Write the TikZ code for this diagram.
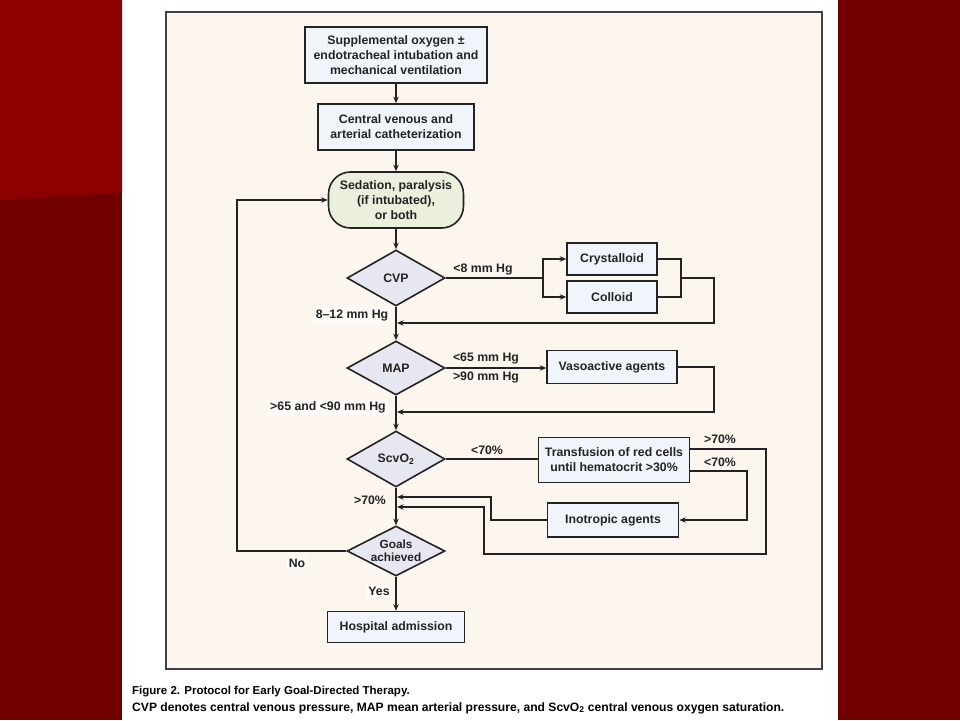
\documentclass[tikz,border=0pt]{standalone}
\usepackage{fontspec}
\setmainfont{Liberation Sans}
\usetikzlibrary{shapes.geometric,arrows.meta,calc}
\definecolor{redtop}{RGB}{140,0,0}
\definecolor{redbot}{RGB}{112,0,0}
\definecolor{panel}{RGB}{253,246,238}
\definecolor{boxfill}{RGB}{240,244,251}
\definecolor{sedfill}{RGB}{234,240,220}
\definecolor{diafill}{RGB}{231,231,242}
\definecolor{ink}{RGB}{35,35,35}
\begin{document}
\begin{tikzpicture}[x=1pt,y=-1pt,
  every node/.style={font=\fontsize{12.3}{14.8}\selectfont\bfseries, text=ink},
  box/.style={draw=ink, line width=1.6pt, fill=boxfill, inner sep=0pt, align=center},
  sed/.style={draw=ink, line width=1.6pt, fill=sedfill, inner sep=0pt, align=center, rounded corners=22pt},
  dia/.style={draw=ink, line width=1.6pt, fill=diafill, diamond, inner sep=0pt, minimum width=98pt, minimum height=56pt},
  lbl/.style={inner sep=1pt},
  lblw/.style={inner sep=2pt, fill=white!60!panel},
  ln/.style={draw=ink, line width=1.6pt},
  arr/.style={ln, -{Stealth[length=6.5pt,width=5.5pt]}},
  captxt/.style={anchor=west, inner sep=0pt, text=black}
]
\useasboundingbox (0,0) rectangle (960,720);
% background
\fill[white] (0,0) rectangle (960,720);
\fill[redbot] (0,0) rectangle (122,720);
\fill[redtop] (0,0) -- (122,0) -- (122,192) -- (0,200) -- cycle;
\fill[redbot] (838,0) rectangle (960,720);
\draw[draw=black!75, line width=1.5pt, fill=panel] (166,12) rectangle (822,669);

% nodes
\node[box, minimum width=182pt, minimum height=56pt] (b1) at (396,55) {Supplemental oxygen ±\\endotracheal intubation and\\mechanical ventilation};
\node[box, minimum width=156pt, minimum height=46pt] (b2) at (396,127) {Central venous and\\arterial catheterization};
\node[sed, minimum width=135pt, minimum height=56pt] (sd) at (396,200) {Sedation, paralysis\\(if intubated),\\or both};
\node[dia, label=center:CVP] (cvp) at (396,278) {};
\node[box, minimum width=90pt, minimum height=32pt] (crys) at (612,259) {Crystalloid};
\node[box, minimum width=90pt, minimum height=32pt] (coll) at (612,297) {Colloid};
\node[dia, minimum height=54pt, label=center:MAP] (map) at (396,368) {};
\node[box, minimum width=130pt, minimum height=33pt] (vaso) at (612,367) {Vasoactive agents};
\node[dia, label=center:ScvO\textsubscript{2}] (scv) at (396,459) {};
\node[box, minimum width=151pt, minimum height=45pt] (trans) at (614,460) {Transfusion of red cells\\until hematocrit >30\%};
\node[box, minimum width=131pt, minimum height=34pt] (ino) at (613,520) {Inotropic agents};
\node[dia, minimum height=50pt, label={[align=center, font=\fontsize{11.8}{13}\selectfont\bfseries]center:Goals\\achieved}] (goal) at (396,551) {};
\node[box, minimum width=137pt, minimum height=31pt] (hosp) at (396,627) {Hospital admission};

% coordinates
\coordinate (split) at (543,278);
\coordinate (rj) at (681,278);
\coordinate (ro) at (714,278);
\coordinate (j1) at (397,323);
\coordinate (vr) at (714,367);
\coordinate (j2) at (397,412);
\coordinate (tu) at ($(trans.east)+(0,-11)$);
\coordinate (tl) at ($(trans.east)+(0,11)$);
\coordinate (oc) at (766,554);
\coordinate (ic) at (747,520);
\coordinate (il) at (491,497);
\coordinate (ol) at (484,507);
\coordinate (ja) at (397,497);
\coordinate (jb) at (397,507);
\coordinate (fb) at (237,551);

% main axis
\draw[arr] (b1) -- (b2);
\draw[arr] (b2) -- (sd);
\draw[arr] (sd) -- (cvp);
\draw[arr] (cvp) -- (map);
\draw[arr] (map) -- (scv);
\draw[arr] (scv) -- (goal);
\draw[arr] (goal) -- (hosp);

% CVP branch
\draw[ln] (cvp.east) -- (split);
\draw[arr] (split) |- (crys.west);
\draw[arr] (split) |- (coll.west);
\draw[ln] (crys.east) -| (rj);
\draw[ln] (coll.east) -| (rj);
\draw[arr] (rj) -- (ro) |- (j1);

% MAP branch
\draw[arr] (map.east) -- (map.east -| vaso.west);
\draw[arr] (vaso.east) -- (vr) |- (j2);

% ScvO2 branch
\draw[ln] (scv.east) -- (scv.east -| trans.west);
\draw[arr] (tl) -| (ic) -- (ino.east);
\draw[arr] (ino.west) -| (il) -- (ja);
\draw[arr] (tu) -| (oc) -| (ol) -- (jb);

% feedback
\draw[arr] (goal.west) -- (fb) |- (sd.west);

% labels
\node[lbl] (l1) at (483,270) {<8 mm Hg};
\node[lblw] (l2) at (352,316) {8–12 mm Hg};
\node[lbl] (l3) at (486,359) {<65 mm Hg};
\node[lbl] (l4) at (486,378) {>90 mm Hg};
\node[lblw] (l5) at (328,407) {>65 and <90 mm Hg};
\node[lbl] (l6) at (487,450) {<70\%};
\node[lbl] (l7) at (720,439) {>70\%};
\node[lbl] (l8) at (720,462) {<70\%};
\node[lbl] (l9) at (370,500) {>70\%};
\node[lblw] (l10) at (297,563) {No};
\node[lblw] (l11) at (379,591) {Yes};

% caption
\node[captxt, font=\fontsize{11.5}{13}\selectfont\bfseries] (c1) at (132,692) {Figure 2. Protocol for Early Goal-Directed Therapy.};
\node[captxt, font=\fontsize{12.1}{13}\selectfont\bfseries] (c2) at (132,708) {CVP denotes central venous pressure, MAP mean arterial pressure, and ScvO\textsubscript{2} central venous oxygen saturation.};
\end{tikzpicture}
\end{document}
